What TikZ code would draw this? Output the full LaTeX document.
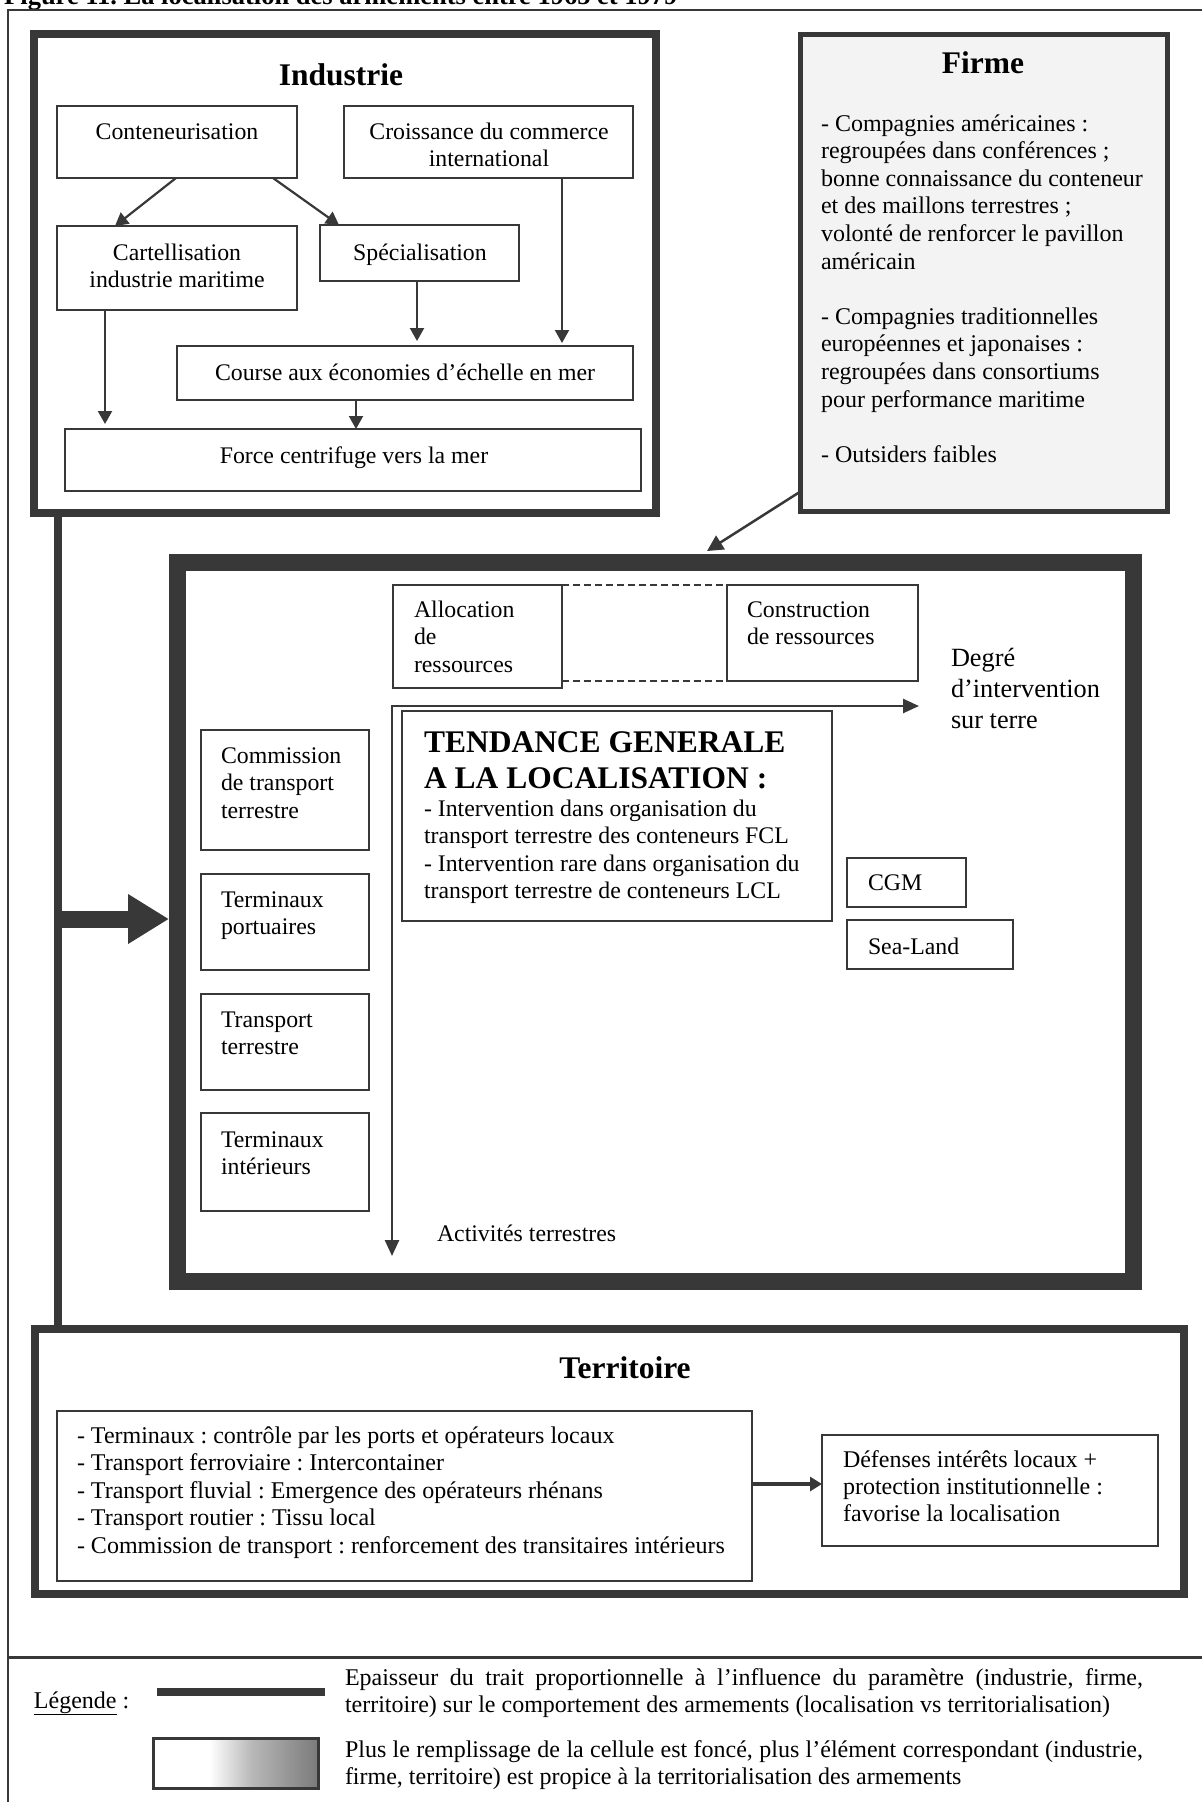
\documentclass[tikz,border=0pt]{standalone}
\usepackage{fontspec}
\setmainfont{Liberation Serif}
\usetikzlibrary{arrows.meta,calc}
\definecolor{dk}{HTML}{383838}
\definecolor{fir}{HTML}{F3F3F3}
\pgfdeclarehorizontalshading{legsh}{100bp}{color(0bp)=(white); color(42bp)=(white); color(55bp)=(black!28); color(75bp)=(black!52); color(100bp)=(black!52)}
\newcommand\fbody{\fontsize{23.8}{27.6}\selectfont}
\newcommand\fhead{\fontsize{31.5}{36}\selectfont\bfseries}
\newcommand\fdeg{\fontsize{26.3}{31}\selectfont}
\newcommand\fl{\rule{0pt}{22pt}}
\frenchspacing
\tikzset{
  bx/.style={draw=dk, line width=2.5pt, inner sep=0pt, outer sep=0pt, anchor=north west},
  txl/.style={inner sep=0pt, outer sep=0pt, align=left, anchor=north west, font=\fbody, text=black},
  txm/.style={inner sep=0pt, outer sep=0pt, align=center, anchor=north, font=\fbody, text=black},
  txc/.style={inner sep=0pt, outer sep=0pt, anchor=base, font=\fbody, text=black},
  txb/.style={inner sep=0pt, outer sep=0pt, anchor=base west, font=\fbody, text=black},
  hd/.style={inner sep=0pt, outer sep=0pt, anchor=base, font=\fhead, text=black},
  arr/.style={draw=dk, line width=2.2pt, -{Triangle[width=14pt,length=13pt]}},
}
\begin{document}
\begin{tikzpicture}[x=1pt,y=-1pt]
\useasboundingbox (0,0) rectangle (1202,1802);

% cut title at the top
\node[inner sep=0pt, anchor=base west, font=\fontsize{26.5}{30}\selectfont\bfseries] (figt) at (4,4) {Figure 11. La localisation des armements entre 1965 et 1979};

% outer frame
\coordinate (fr1) at (8,1802);
\coordinate (fr2) at (8,10);
\coordinate (fr3) at (1202,10);
\coordinate (sp1) at (8,1657);
\coordinate (sp2) at (1202,1657);
\draw[dk, line width=2.5pt] (fr1) -- (fr2) -- (fr3);
\draw[dk, line width=3pt] (sp1) -- (sp2);

% containers
\node[bx, line width=8pt, minimum width=622pt, minimum height=479pt] (ind) at (34,34) {};
\node[bx, line width=5pt, fill=fir, minimum width=367pt, minimum height=477pt] (firme) at (800.5,34.5) {};
\node[bx, line width=17pt, minimum width=956pt, minimum height=719.5pt] (cen) at (177.5,562) {};
\node[bx, line width=8pt, minimum width=1149pt, minimum height=265pt] (ter) at (35,1329) {};

% thick connection
\draw[dk, line width=8pt] ([xshift=24pt]ind.south west) -- ([xshift=23pt]ter.north west);
\coordinate (jn) at (58,919);
\draw[dk, line width=17pt, -{Triangle[width=47pt,length=41pt]}] (jn) -- ([xshift=-8.5pt]jn -| cen.west);

% ---------- Industrie ----------
\node[hd] (indT) at (341,85) {Industrie};
\node[bx, minimum width=240pt, minimum height=72pt] (cont) at (57,106) {};
\node[bx, minimum width=289pt, minimum height=72pt] (crois) at (344,106) {};
\node[bx, minimum width=240pt, minimum height=84pt] (cart) at (57,226) {};
\node[bx, minimum width=199pt, minimum height=56pt] (spec) at (320,225) {};
\node[bx, minimum width=456pt, minimum height=54pt] (course) at (177,346) {};
\node[bx, minimum width=576pt, minimum height=62pt] (force) at (65,429) {};

\node[txc] (contT) at (177,139) {Conteneurisation};
\node[txm] (croisT) at (489,117) {\fl Croissance du commerce\\international};
\node[txm] (cartT) at (177,238) {\fl Cartellisation\\industrie maritime};
\node[txc] (specT) at (420,260) {Spécialisation};
\node[txc] (courseT) at (405,380) {Course aux économies d’échelle en mer};
\node[txc] (forceT) at (354,463) {Force centrifuge vers la mer};

\draw[arr] ([xshift=-1pt]cont.south) -- ([xshift=-62pt]cart.north);
\draw[arr] ([xshift=96pt]cont.south) -- ([xshift=19pt]spec.north west);
\draw[arr] ([xshift=-2.5pt]spec.south) -- ([xshift=-2.5pt,yshift=5pt]spec.south |- course.north);
\draw[arr] ([xshift=73.5pt]crois.south) -- ([xshift=73.5pt,yshift=3pt]crois.south |- course.north);
\draw[arr] ([xshift=48pt]cart.south west) -- ([xshift=48pt,yshift=5pt]cart.south west |- force.north);
\draw[arr] ([xshift=-49pt]course.south) -- ([xshift=-49pt]course.south |- force.north);

% ---------- Firme ----------
\node[hd] (firT) at (983,73) {Firme};
\node[txl, font=\fontsize{24}{27.6}\selectfont] (firB) at (821,109) {\fl - Compagnies américaines :\\
regroupées dans conférences ;\\
bonne connaissance du conteneur\\
et des maillons terrestres ;\\
volonté de renforcer le pavillon\\
américain\\[27.6pt]
- Compagnies traditionnelles\\
européennes et japonaises :\\
regroupées dans consortiums\\
pour performance maritime\\[27.6pt]
- Outsiders faibles};
\draw[dk, line width=2.5pt, -{Triangle[width=16pt,length=16pt]}] ([yshift=20pt]firme.south west) -- ([xshift=51.5pt,yshift=11pt]cen.north);

% ---------- central ----------
\node[bx, minimum width=169pt, minimum height=103pt] (alloc) at (393,585) {};
\node[bx, minimum width=191pt, minimum height=96pt] (constr) at (727,585) {};
\draw[dk, line width=2pt, dash pattern=on 7pt off 4pt] (alloc.north east) -- (constr.north west);
\draw[dk, line width=2pt, dash pattern=on 7pt off 4pt] (alloc.east |- constr.south) -- (constr.south west);
\node[txl] (allocT) at (414,595) {\fl Allocation\\de\\ressources};
\node[txl] (constrT) at (747,595) {\fl Construction\\de ressources};

\coordinate (orig) at (392,706);
\coordinate (hx) at (919,706);
\coordinate (vy) at (392,1256);
\draw[dk, line width=2.5pt, {Triangle[width=14pt,length=16pt]}-{Triangle[width=14pt,length=16pt]}] (hx) -- (orig) -- (vy);

\node[txl, font=\fdeg] (degT) at (951,642) {\rule{0pt}{24pt}Degré\\d’intervention\\sur terre};

\node[bx, minimum width=430pt, minimum height=210pt] (tend) at (402,711) {};
\node[txl, font=\fhead] (tendT) at (424,725) {\rule{0pt}{27pt}TENDANCE GENERALE\\A LA LOCALISATION :};
\node[txl] (tendB) at (424,794) {\fl - Intervention dans organisation du\\
transport terrestre des conteneurs FCL\\
- Intervention rare dans organisation du\\
transport terrestre de conteneurs LCL};

\node[bx, minimum width=119pt, minimum height=49pt] (cgm) at (847,858) {};
\node[bx, minimum width=166pt, minimum height=49pt] (sea) at (847,920) {};
\node[txb] (cgmT) at (868,890) {CGM};
\node[txb] (seaT) at (868,954) {Sea-Land};

\node[bx, minimum width=168pt, minimum height=120pt] (comm) at (201,730) {};
\node[bx, minimum width=168pt, minimum height=96pt] (tport) at (201,874) {};
\node[bx, minimum width=168pt, minimum height=96pt] (ttr) at (201,994) {};
\node[bx, minimum width=168pt, minimum height=98pt] (tint) at (201,1113) {};
\node[txl] (commT) at (221,741) {\fl Commission\\de transport\\terrestre};
\node[txl] (tportT) at (221,885) {\fl Terminaux\\portuaires};
\node[txl] (ttrT) at (221,1005) {\fl Transport\\terrestre};
\node[txl] (tintT) at (221,1125) {\fl Terminaux\\intérieurs};

\node[txb] (actT) at (437,1241) {Activités terrestres};

% ---------- Territoire ----------
\node[hd] (terT) at (625,1378) {Territoire};
\node[bx, minimum width=695pt, minimum height=170pt] (tlist) at (57,1411) {};
\node[bx, minimum width=336pt, minimum height=111pt] (def) at (822,1435) {};
\node[txl, font=\fontsize{24}{27.6}\selectfont] (tlistT) at (77,1421) {\fl - Terminaux : contrôle par les ports et opérateurs locaux\\
- Transport ferroviaire : Intercontainer\\
- Transport fluvial : Emergence des opérateurs rhénans\\
- Transport routier : Tissu local\\
- Commission de transport : renforcement des transitaires intérieurs};
\node[txl, font=\fontsize{24}{27.3}\selectfont] (defT) at (843,1445) {\fl Défenses intérêts locaux +\\
protection institutionnelle :\\
favorise la localisation};
\draw[dk, line width=4pt, -{Triangle[width=14pt,length=12pt]}] ([yshift=12pt]tlist.east) -- ([yshift=12pt]tlist.east -| def.west);

% ---------- Légende ----------
\node[txb, font=\fontsize{24}{27.6}\selectfont] (legT) at (34,1708) {\underline{Légende} :};
\coordinate (ll1) at (157,1692);
\coordinate (ll2) at (325,1692);
\draw[dk, line width=8pt] (ll1) -- (ll2);
\node[bx, line width=3pt, minimum width=165pt, minimum height=50pt, shading=legsh] (legg) at (153,1738) {};
\node[txl, font=\fontsize{24}{27}\selectfont] (leg1) at (345,1663) {\makebox[798pt][s]{\fl Epaisseur du trait proportionnelle à l’influence du paramètre (industrie, firme,}\\
territoire) sur le comportement des armements (localisation vs territorialisation)};
\node[txl, font=\fontsize{24}{27}\selectfont] (leg2) at (345,1735) {\makebox[798pt][s]{\fl Plus le remplissage de la cellule est foncé, plus l’élément correspondant (industrie,}\\
firme, territoire) est propice à la territorialisation des armements};
\end{tikzpicture}
\end{document}
